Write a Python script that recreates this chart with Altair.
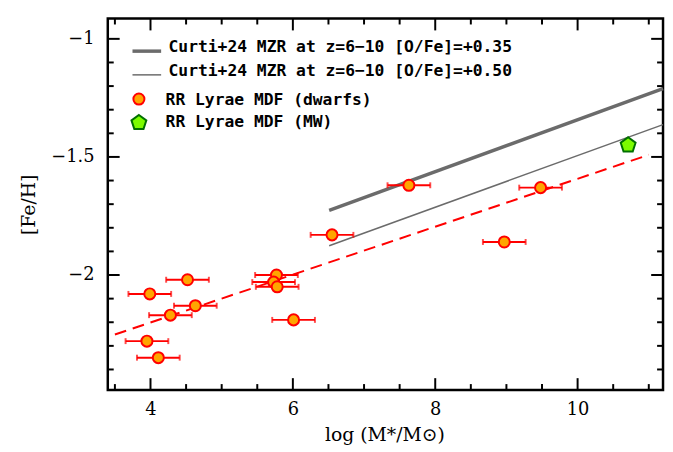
import altair as alt
import pandas as pd

# ---------------- data ----------------
dwarf_logm = [3.99, 4.52, 4.63, 4.28, 3.95, 4.11, 5.77, 5.73, 5.78, 6.01, 6.55, 7.63, 9.48, 8.97]
dwarf_feh = [-2.08, -2.02, -2.13, -2.17, -2.28, -2.35, -2.00, -2.03, -2.05, -2.19, -1.83, -1.62, -1.63, -1.86]
dwarf_err = [0.3, 0.3, 0.3, 0.3, 0.3, 0.3, 0.3, 0.3, 0.3, 0.3, 0.3, 0.3, 0.3, 0.3]

mw_logm = [10.71]
mw_feh = [-1.45]

curti_logm = [6.51, 11.2]
curti_feh_035 = [-1.726, -1.211]
curti_feh_050 = [-1.876, -1.363]

fit_logm = [3.5, 11.0]
fit_feh = [-2.252, -1.491]

x_major = [4, 6, 8, 10]
x_minor = [3.5, 4.5, 5, 5.5, 6.5, 7, 7.5, 8.5, 9, 9.5, 10.5, 11]
y_major = [-2, -1.5, -1]
y_minor = [-2.4, -2.3, -2.2, -2.1, -1.9, -1.8, -1.7, -1.6, -1.4, -1.3, -1.2, -1.1]

legend_labels = [
    "Curti+24 MZR at z=6\u221210 [O/Fe]=+0.35",
    "Curti+24 MZR at z=6\u221210 [O/Fe]=+0.50",
    "RR Lyrae MDF (dwarfs)",
    "RR Lyrae MDF (MW)",
]

# ---------------- tables ----------------
dwarfs = pd.DataFrame({"x": dwarf_logm, "y": dwarf_feh, "e": dwarf_err})
dwarfs["lo"] = dwarfs["x"] - dwarfs["e"]
dwarfs["hi"] = dwarfs["x"] + dwarfs["e"]
mw = pd.DataFrame({"x": mw_logm, "y": mw_feh})
c035 = pd.DataFrame({"x": curti_logm, "y": curti_feh_035})
c050 = pd.DataFrame({"x": curti_logm, "y": curti_feh_050})
fit = pd.DataFrame({"x": fit_logm, "y": fit_feh})
xmaj = pd.DataFrame({"v": x_major})
xmin = pd.DataFrame({"v": x_minor})
ymaj = pd.DataFrame({"v": y_major})
ymin = pd.DataFrame({"v": y_minor})

W, H = 562, 376
SERIF = "DejaVu Serif"
LEGFONT = "DejaVu Sans Mono"
GRAY = "#6b6b6b"
PENTAGON = "M0,-1L0.951,-0.309L0.588,0.809L-0.588,0.809L-0.951,-0.309Z"

xs = alt.Scale(domain=[3.4, 11.2], nice=False, zero=False)
ys = alt.Scale(domain=[-2.487, -0.914], nice=False, zero=False)

xaxis = alt.Axis(values=x_major, ticks=False, domain=False, grid=False,
                 labelFont=SERIF, labelFontSize=18, labelPadding=11, labelColor="black",
                 title="log (M*/M\u2299)", titleFont=SERIF, titleFontSize=19,
                 titleFontWeight="normal", titleColor="black",
                 titleX=280, titleY=45, titleBaseline="middle", titleAlign="center")
yaxis = alt.Axis(values=y_major, format="~g", ticks=False, domain=False, grid=False,
                 labelFont=SERIF, labelFontSize=18, labelPadding=14, labelColor="black",
                 title="[Fe/H]", titleFont=SERIF, titleFontSize=19,
                 titleFontWeight="normal", titleColor="black",
                 titleX=-80, titleY=188, titleBaseline="middle", titleAlign="center", titleAngle=270)


def X(f):
    return alt.X(f, type="quantitative", scale=xs, axis=xaxis, title="log (M*/M\u2299)")


def Y(f):
    return alt.Y(f, type="quantitative", scale=ys, axis=yaxis, title="[Fe/H]")


fit_l = alt.Chart(fit).mark_line(color="red", strokeWidth=2, strokeDash=[12, 7]).encode(x=X("x"), y=Y("y"))
c035_l = alt.Chart(c035).mark_line(color=GRAY, strokeWidth=3.5).encode(x=X("x"), y=Y("y"))
c050_l = alt.Chart(c050).mark_line(color=GRAY, strokeWidth=1.5).encode(x=X("x"), y=Y("y"))

bars = alt.Chart(dwarfs).mark_rule(color="red", strokeWidth=2).encode(x=X("lo"), x2="hi", y=Y("y"))
cap_lo = alt.Chart(dwarfs).mark_tick(color="red", thickness=2, size=6, orient="vertical").encode(x=X("lo"), y=Y("y"))
cap_hi = alt.Chart(dwarfs).mark_tick(color="red", thickness=2, size=6, orient="vertical").encode(x=X("hi"), y=Y("y"))
pts = alt.Chart(dwarfs).mark_point(shape="circle", size=125, fill="#FFA500", stroke="red",
                                   strokeWidth=2, fillOpacity=1, opacity=1).encode(x=X("x"), y=Y("y"))
mw_p = alt.Chart(mw).mark_point(shape=PENTAGON, size=250, fill="#7CFC00", stroke="#007000",
                                strokeWidth=2, fillOpacity=1, opacity=1).encode(x=X("x"), y=Y("y"))

# inward ticks on all four sides
tk = dict(color="black", strokeWidth=2)
t_xb_M = alt.Chart(xmaj).mark_rule(**tk).encode(x=X("v"), y=alt.value(H), y2=alt.value(H - 12))
t_xb_m = alt.Chart(xmin).mark_rule(**tk).encode(x=X("v"), y=alt.value(H), y2=alt.value(H - 6))
t_xt_M = alt.Chart(xmaj).mark_rule(**tk).encode(x=X("v"), y=alt.value(0), y2=alt.value(12))
t_xt_m = alt.Chart(xmin).mark_rule(**tk).encode(x=X("v"), y=alt.value(0), y2=alt.value(6))
t_yl_M = alt.Chart(ymaj).mark_rule(**tk).encode(y=Y("v"), x=alt.value(0), x2=alt.value(12))
t_yl_m = alt.Chart(ymin).mark_rule(**tk).encode(y=Y("v"), x=alt.value(0), x2=alt.value(6))
t_yr_M = alt.Chart(ymaj).mark_rule(**tk).encode(y=Y("v"), x=alt.value(W), x2=alt.value(W - 12))
t_yr_m = alt.Chart(ymin).mark_rule(**tk).encode(y=Y("v"), x=alt.value(W), x2=alt.value(W - 6))

# legend
def lab(i):
    return pd.DataFrame({"label": [legend_labels[i]]})

txt = dict(font=LEGFONT, fontSize=16.5, fontWeight="bold", align="left", baseline="alphabetic", color="black")
leg = [
    alt.Chart(lab(0)).mark_rule(color=GRAY, strokeWidth=3.5).encode(x=alt.value(25), x2=alt.value(54), y=alt.value(33)),
    alt.Chart(lab(1)).mark_rule(color=GRAY, strokeWidth=1.5).encode(x=alt.value(25), x2=alt.value(54), y=alt.value(57)),
    alt.Chart(lab(2)).mark_point(shape="circle", size=125, fill="#FFA500", stroke="red", strokeWidth=2,
                                 fillOpacity=1, opacity=1).encode(x=alt.value(31.5), y=alt.value(81.5)),
    alt.Chart(lab(3)).mark_point(shape=PENTAGON, size=250, fill="#7CFC00", stroke="#007000", strokeWidth=2,
                                 fillOpacity=1, opacity=1).encode(x=alt.value(31.5), y=alt.value(105.5)),
    alt.Chart(lab(0)).mark_text(**txt).encode(text="label:N", x=alt.value(61.5), y=alt.value(34)),
    alt.Chart(lab(1)).mark_text(**txt).encode(text="label:N", x=alt.value(61.5), y=alt.value(58)),
    alt.Chart(lab(2)).mark_text(**txt).encode(text="label:N", x=alt.value(58.5), y=alt.value(87.5)),
    alt.Chart(lab(3)).mark_text(**txt).encode(text="label:N", x=alt.value(58.5), y=alt.value(110)),
]

chart = alt.layer(
    fit_l, c035_l, c050_l, bars, cap_lo, cap_hi, pts, mw_p,
    t_xb_M, t_xb_m, t_xt_M, t_xt_m, t_yl_M, t_yl_m, t_yr_M, t_yr_m,
    *leg,
).properties(
    width=W, height=H,
    autosize=alt.AutoSizeParams(type="none"),
    padding={"left": 101, "top": 8, "right": 2, "bottom": 55},
    background="white",
).configure_view(stroke="black", strokeWidth=2.5)

chart.save("out.html", embed_options={"renderer": "svg", "actions": False})
